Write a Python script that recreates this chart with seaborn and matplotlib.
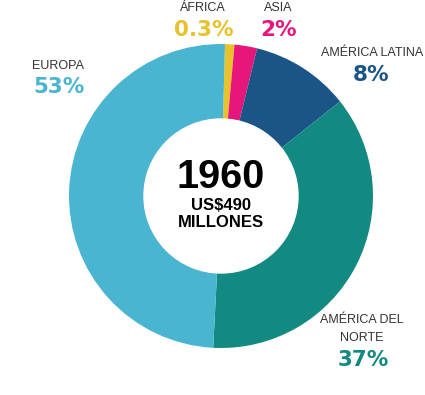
import matplotlib
matplotlib.use("Agg")
import matplotlib.pyplot as plt
import seaborn as sns

# ── Datos ──────────────────────────────────────────────────────────────────────
regiones = ["ÁFRICA", "ASIA", "AMÉRICA LATINA", "AMÉRICA DEL\nNORTE", "EUROPA"]
etiquetas = ["0.3%", "2%", "8%", "37%", "53%"]
# tamaño de cada porción tal como se ve dibujada en el gráfico
porciones = [1.0, 2.4, 10.5, 36.5, 49.6]
colores = ["#E8C22B", "#E6167A", "#1B5588", "#128A82", "#49B5D1"]

anio = "1960"
monto = "US$490\nMILLONES"

sns.set_theme(style="white")
plt.rcParams["font.family"] = ["Liberation Sans", "DejaVu Sans"]

W, H = 425, 395
fig = plt.figure(figsize=(W / 100, H / 100), dpi=100)
ax = fig.add_axes([0, 0, 1, 1])

cx, cy = 221, H - 196
r_ext, r_int = 152, 77

ax.pie(porciones, colors=colores, startangle=88.5, counterclock=False,
       center=(cx, cy), radius=r_ext,
       wedgeprops=dict(width=r_ext - r_int, linewidth=0))
ax.add_patch(plt.Circle((cx, cy), r_int, color="white", zorder=3))

# pie() cambia los límites, se fijan después
ax.set_xlim(0, W)
ax.set_ylim(0, H)
ax.set_aspect("equal")
ax.axis("off")

# ── Texto central ──────────────────────────────────────────────────────────────
ax.text(cx, H - 177, anio, ha="center", va="center", fontsize=28.5,
        fontweight="bold", color="black", zorder=4)
ax.text(cx, H - 214, monto, ha="center", va="center", fontsize=12,
        fontweight="bold", color="black", linespacing=1.1, zorder=4)

# ── Etiquetas de regiones ──────────────────────────────────────────────────────
pos_nombre = [(203, 8), (278, 8), (372, 53), (362, 329), (58, 66)]
pos_valor = [(204, 30), (279, 30), (371, 75), (363, 360), (59, 87)]

for nom, val, col, (nx, ny), (vx, vy) in zip(regiones, etiquetas, colores,
                                             pos_nombre, pos_valor):
    ax.text(nx, H - ny, nom, ha="center", va="center", fontsize=9,
            color="#333333", linespacing=1.6)
    ax.text(vx, H - vy, val, ha="center", va="center", fontsize=15.5,
            fontweight="bold", family="DejaVu Sans", color=col)

fig.savefig("out.png", dpi=100)
plt.close(fig)
